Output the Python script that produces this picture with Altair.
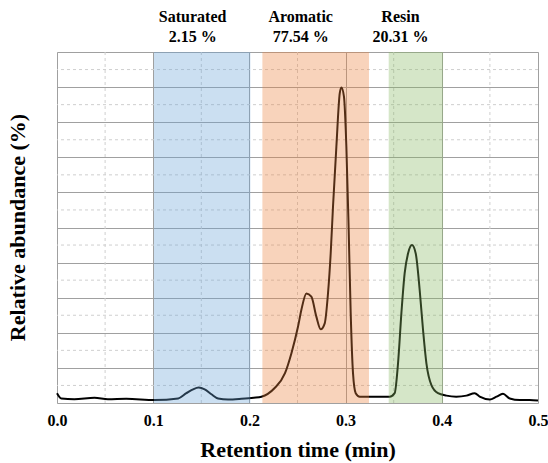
import altair as alt
import pandas as pd

# ---- data ----
rt = [0.0, 0.0045, 0.018, 0.039, 0.053, 0.072, 0.1016, 0.126, 0.1345, 0.1414, 0.1473,
      0.1535, 0.1605, 0.1674, 0.1778, 0.1917, 0.2045, 0.2125, 0.226, 0.237, 0.2437,
      0.2505, 0.254, 0.2593, 0.2644, 0.2696, 0.2741, 0.2783, 0.2817, 0.2845, 0.2869,
      0.2904, 0.2939, 0.2956, 0.2983, 0.3008, 0.3032, 0.3053, 0.3077, 0.3105, 0.3147,
      0.33, 0.3458, 0.351, 0.3545, 0.358, 0.3614, 0.3649, 0.369, 0.3729, 0.377, 0.3805,
      0.384, 0.3892, 0.396, 0.4048, 0.415, 0.4256, 0.4342, 0.4394, 0.45, 0.4568, 0.4636,
      0.4706, 0.481, 0.4914, 0.5]
abund = [2.8, 1.3, 1.1, 1.5, 1.05, 1.2, 0.85, 1.3, 2.8, 3.9, 4.4,
         3.9, 2.5, 1.3, 1.0, 1.2, 1.5, 1.8, 4.2, 8.5, 14.2,
         21.7, 26.5, 31.2, 30.3, 24.6, 21.0, 22.7, 31.2, 42.6, 55.9,
         73.0, 88.2, 89.9, 87.3, 73.0, 49.3, 25.6, 8.5, 2.8, 1.8,
         1.8, 1.8, 2.8, 11.3, 25.6, 37.0, 42.6, 45.0, 42.6, 32.2, 20.8,
         11.3, 5.1, 2.8, 2.1, 1.8, 2.1, 2.8, 1.8, 1.0, 1.8, 2.6,
         1.3, 0.85, 0.85, 0.7]

fractions = ["Saturated", "Aromatic", "Resin"]
percents = ["2.15 %", "77.54 %", "20.31 %"]
band_start = [0.1008, 0.2135, 0.3448]
band_end = [0.201, 0.3243, 0.4013]
label_x = [0.141, 0.2533, 0.357]
band_colors = ["#6aa3d6", "#ea813c", "#86b761"]

major_x = [0.0, 0.1, 0.2, 0.3, 0.4, 0.5]
minor_x = [0.05, 0.15, 0.25, 0.35, 0.45]
major_y = [0, 10, 20, 30, 40, 50, 60, 70, 80, 90, 100]
minor_y = [5, 15, 25, 35, 45, 55, 65, 75, 85, 95]

FONT = "'Liberation Serif', 'Times New Roman', serif"

curve = pd.DataFrame({"rt": rt, "ab": abund})
bands = pd.DataFrame({"name": fractions, "pct": percents, "start": band_start,
                      "end": band_end, "lx": label_x})
mx = pd.DataFrame({"rt": minor_x})
my = pd.DataFrame({"ab": minor_y})

xscale = alt.Scale(domain=[0, 0.5], nice=False, zero=False)
yscale = alt.Scale(domain=[0, 100], nice=False)

xaxis = alt.Axis(values=major_x, format=".1f", grid=True, gridColor="#a0a0a0",
                 gridWidth=1, ticks=False, domain=False, labelFont=FONT,
                 labelFontWeight="bold", labelFontSize=16, labelColor="#000",
                 labelPadding=9, labelFlush=False,
                 title="Retention time (min)", titleFont=FONT, titleFontSize=22,
                 titleFontWeight="bold", titleColor="#000", titlePadding=11)
yaxis = alt.Axis(values=major_y, grid=True, gridColor="#a0a0a0", gridWidth=1,
                 ticks=False, labels=False, domain=False,
                 title="Relative abundance (%)", titleFont=FONT, titleFontSize=22,
                 titleFontWeight="bold", titleColor="#000",
                 titleX=-40, titleY=175, titleAngle=-90, titleBaseline="middle",
                 titleAlign="center")

X = lambda f: alt.X(f, scale=xscale, axis=xaxis, title="Retention time (min)")
Y = lambda f: alt.Y(f, scale=yscale, axis=yaxis, title="Relative abundance (%)")

minor_v = alt.Chart(mx).mark_rule(color="#cfcfcf", strokeDash=[3, 3], strokeWidth=1).encode(
    x=X("rt:Q"))
minor_h = alt.Chart(my).mark_rule(color="#cfcfcf", strokeDash=[3, 3], strokeWidth=1).encode(
    y=Y("ab:Q"))

line = alt.Chart(curve).mark_line(color="#000000", strokeWidth=2, interpolate="monotone").encode(
    x=X("rt:Q"), y=Y("ab:Q"))

rects = alt.Chart(bands).mark_rect(opacity=0.35).encode(
    x=X("start:Q"), x2="end:Q",
    color=alt.Color("name:N", scale=alt.Scale(domain=fractions, range=band_colors), legend=None))

t1 = alt.Chart(bands).mark_text(font=FONT, fontWeight="bold", fontSize=16, color="#000",
                                baseline="middle").encode(
    x=X("lx:Q"), y=alt.value(-35), text="name:N")
t2 = alt.Chart(bands).mark_text(font=FONT, fontWeight="bold", fontSize=16, color="#000",
                                baseline="middle").encode(
    x=X("lx:Q"), y=alt.value(-15), text="pct:N")

chart = alt.layer(minor_v, minor_h, line, rects, t1, t2).properties(
    width=481, height=351,
    autosize=alt.AutoSizeParams(type="none"),
    padding={"left": 57, "top": 52, "right": 10, "bottom": 60},
).configure_view(stroke="#222222", strokeWidth=1.5).configure(background="white")

chart.save("out.html", embed_options={"renderer": "svg", "actions": False})
